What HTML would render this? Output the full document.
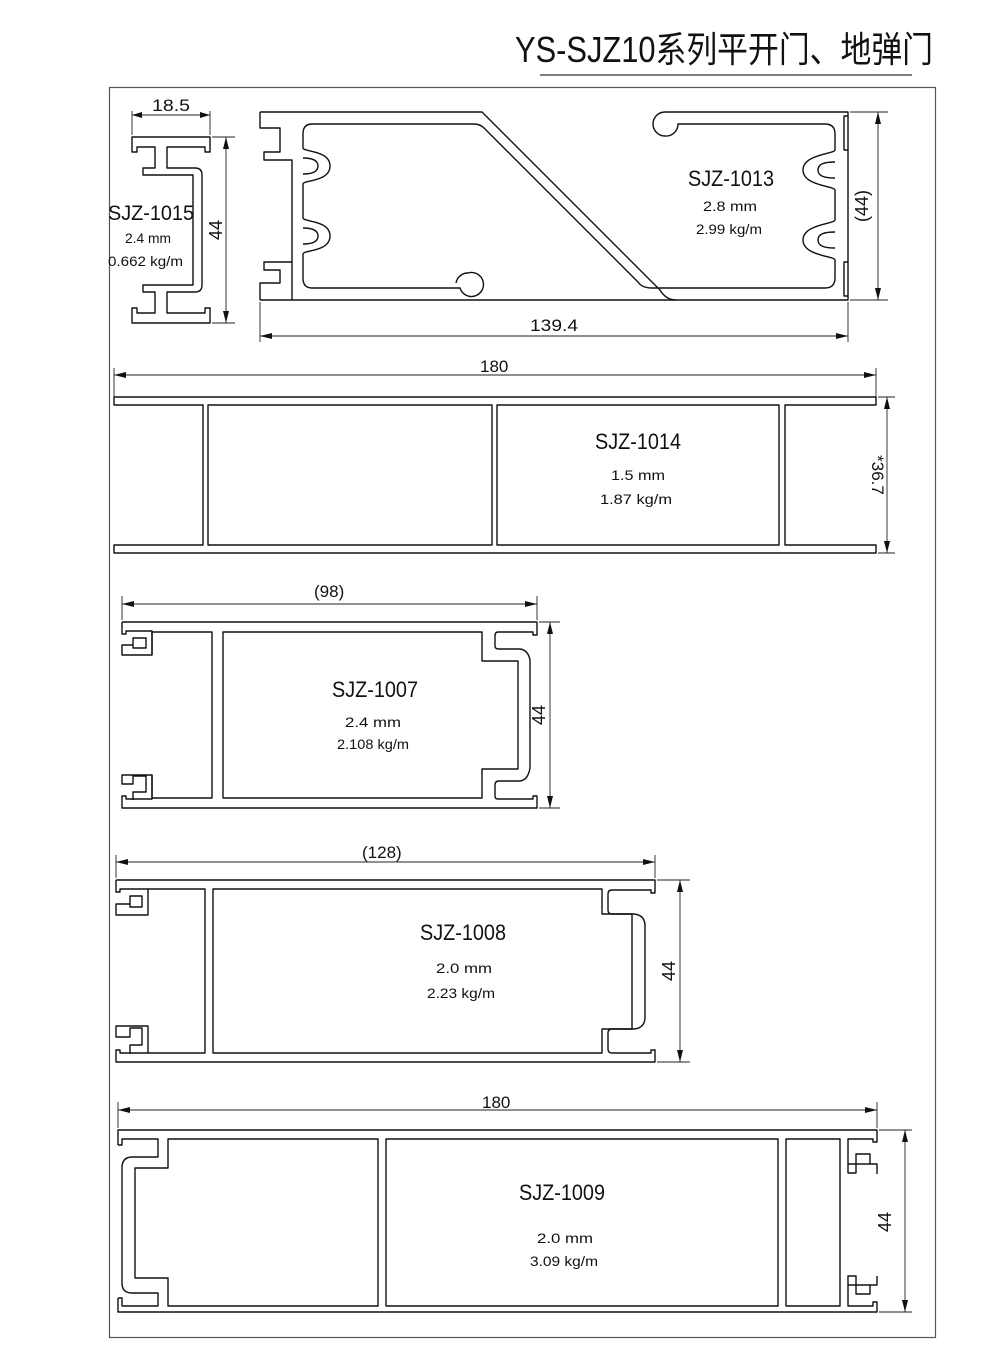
<!DOCTYPE html>
<html><head><meta charset="utf-8"><style>
html,body{margin:0;padding:0;background:#fff}
svg{display:block}
text{font-family:"Liberation Sans","Noto Sans CJK SC",sans-serif;fill:#111}
.p{fill:none;stroke:#111;stroke-width:1.4;stroke-linejoin:round}
.d{fill:none;stroke:#222;stroke-width:0.9}
.a{fill:#111}
</style></head><body>
<svg width="1000" height="1366" viewBox="0 0 1000 1366" xmlns="http://www.w3.org/2000/svg">
<text x="515" y="62" font-size="36" textLength="418" lengthAdjust="spacingAndGlyphs">YS-SJZ10系列平开门、地弹门</text>
<line x1="540" y1="75" x2="912" y2="75" stroke="#333" stroke-width="1.2"/>
<rect x="109.5" y="87.5" width="826" height="1250" fill="none" stroke="#555" stroke-width="1.2"/>

<!-- SJZ-1015 -->
<path class="p" d="M132,137 H210 V152 H205 V147 H167 V168 H195 Q202,168 202,175 V285 Q202,292 195,292 H167 V313 H205 V308 H210 V323 H132 V308 H137 V313 H155 V292 H143 V285 H193 V175 H143 V168 H155 V147 H137 V152 H132 Z"/>
<line class="d" x1="132" y1="111" x2="132" y2="135"/><line class="d" x1="210" y1="111" x2="210" y2="135"/>
<line class="d" x1="132" y1="115" x2="210" y2="115"/>
<path class="a" d="M132,115 l10,-3 v6z M210,115 l-10,-3 v6z"/>
<text x="152" y="111" font-size="17" textLength="38" lengthAdjust="spacingAndGlyphs">18.5</text>
<line class="d" x1="212" y1="137" x2="235" y2="137"/><line class="d" x1="212" y1="323" x2="235" y2="323"/>
<line class="d" x1="226" y1="137" x2="226" y2="323"/>
<path class="a" d="M226,137 l-3,12 h6z M226,323 l-3,-12 h6z"/>
<text transform="translate(222,230) rotate(-90)" font-size="18" text-anchor="middle">44</text>
<text x="108" y="220" font-size="21" textLength="86" lengthAdjust="spacingAndGlyphs">SJZ-1015</text>
<text x="125" y="243" font-size="14" textLength="46" lengthAdjust="spacingAndGlyphs">2.4 mm</text>
<text x="108" y="266" font-size="14" textLength="75" lengthAdjust="spacingAndGlyphs">0.662 kg/m</text>

<!-- SJZ-1013 -->
<path class="p" d="M260,112 H482 L660,290 Q666,300 676,300 H848 V112 H665 A12,12 0 0 0 665,136 A12,12 0 0 0 678,124 H825 Q835,124 835,134 V150 C835,154 803,154 803,170 C803,186 835,186 835,190 V220 C835,224 803,224 803,240 C803,256 835,256 835,260 V278 Q835,288 825,288 H652 Q642,288 638,282 L484,128 Q480,124 474,124 H312 Q303,124 303,134 V148 C303,152 330,150 330,166 C330,182 303,180 303,184 V218 C303,222 330,220 330,236 C330,252 303,250 303,254 V278 Q303,288 312,288 H460 A12,12 0 1 0 468,273 A12,12 0 0 0 456,283"/>
<path class="p" d="M260,300 H676"/>
<path class="p" d="M260,112 V128 H280 V152 H264 V160 H292 V300"/>
<path class="p" d="M260,300 V283 H280 V270 H264 V262 H292"/>
<path class="p" d="M303,158 C312,158 318,160 318,166 C318,172 312,174 303,174 M303,228 C312,228 318,230 318,236 C318,242 312,244 303,244"/>
<path class="p" d="M835,162 C824,162 818,164 818,170 C818,176 824,178 835,178 M835,232 C824,232 818,234 818,240 C818,246 824,248 835,248"/>
<path class="p" d="M848,116 H844 V150 H848 M848,296 H844 V262 H848"/>
<line class="d" x1="850" y1="112" x2="888" y2="112"/><line class="d" x1="850" y1="300" x2="888" y2="300"/>
<line class="d" x1="878" y1="112" x2="878" y2="300"/>
<path class="a" d="M878,112 l-3,12 h6z M878,300 l-3,-12 h6z"/>
<text transform="translate(868,206) rotate(-90)" font-size="18" text-anchor="middle">(44)</text>
<line class="d" x1="260" y1="302" x2="260" y2="342"/><line class="d" x1="848" y1="302" x2="848" y2="342"/>
<line class="d" x1="260" y1="336" x2="848" y2="336"/>
<path class="a" d="M260,336 l12,-3 v6z M848,336 l-12,-3 v6z"/>
<text x="530" y="331" font-size="17" textLength="48" lengthAdjust="spacingAndGlyphs">139.4</text>
<text x="688" y="186" font-size="22" textLength="86" lengthAdjust="spacingAndGlyphs">SJZ-1013</text>
<text x="703" y="211" font-size="14" textLength="54" lengthAdjust="spacingAndGlyphs">2.8  mm</text>
<text x="696" y="234" font-size="14" textLength="66" lengthAdjust="spacingAndGlyphs">2.99 kg/m</text>

<!-- SJZ-1014 -->
<line class="d" x1="114" y1="368" x2="114" y2="400"/><line class="d" x1="876" y1="368" x2="876" y2="400"/>
<line class="d" x1="114" y1="375" x2="876" y2="375"/>
<path class="a" d="M114,375 l12,-3 v6z M876,375 l-12,-3 v6z"/>
<text x="480" y="372" font-size="17">180</text>
<path class="p" d="M114,397 H876 V405 H785 V545 H876 V553 H114 V545 H203 V405 H114 Z"/>
<rect class="p" x="208" y="405" width="284" height="140"/>
<rect class="p" x="497" y="405" width="282" height="140"/>
<line class="d" x1="878" y1="397" x2="895" y2="397"/><line class="d" x1="878" y1="553" x2="895" y2="553"/>
<line class="d" x1="887" y1="397" x2="887" y2="553"/>
<path class="a" d="M887,397 l-3,12 h6z M887,553 l-3,-12 h6z"/>
<text transform="translate(872,475) rotate(90)" font-size="17" text-anchor="middle">*36.7</text>
<text x="595" y="449" font-size="22" textLength="86" lengthAdjust="spacingAndGlyphs">SJZ-1014</text>
<text x="611" y="480" font-size="14" textLength="54" lengthAdjust="spacingAndGlyphs">1.5   mm</text>
<text x="600" y="504" font-size="14" textLength="72" lengthAdjust="spacingAndGlyphs">1.87  kg/m</text>

<!-- SJZ-1007 -->
<line class="d" x1="122" y1="596" x2="122" y2="620"/><line class="d" x1="537" y1="596" x2="537" y2="620"/>
<line class="d" x1="122" y1="604" x2="537" y2="604"/>
<path class="a" d="M122,604 l12,-3 v6z M537,604 l-12,-3 v6z"/>
<text x="314" y="597" font-size="17">(98)</text>
<path class="p" d="M122,622 H537 V635 H533 V632 H498 Q495,632 495,636 V646 Q495,649 499,649 H520 Q528,650 530,660 V768 Q528,780 520,781 H499 Q495,781 495,785 V796 Q495,799 498,799 H533 V796 H537 V808 H122 V796 H126 V799 H152 V775 H122 V784 H133 V776 H146 V792 H133 V800 M122,622 V634 H126 V631 H152 V655 H122 V645 H133 V638 H146 V648 H133 V640"/>
<path class="p" d="M152,632 H212 V798 H152 M152,632 V655 M152,775 V798"/>
<path class="p" d="M223,632 H482 V661 H518 V769 H482 V798 H223 Z"/>
<line class="d" x1="539" y1="622" x2="560" y2="622"/><line class="d" x1="539" y1="808" x2="560" y2="808"/>
<line class="d" x1="550" y1="622" x2="550" y2="808"/>
<path class="a" d="M550,622 l-3,12 h6z M550,808 l-3,-12 h6z"/>
<text transform="translate(545,715) rotate(-90)" font-size="18" text-anchor="middle">44</text>
<text x="332" y="697" font-size="22" textLength="86" lengthAdjust="spacingAndGlyphs">SJZ-1007</text>
<text x="345" y="727" font-size="14" textLength="56" lengthAdjust="spacingAndGlyphs">2.4   mm</text>
<text x="337" y="749" font-size="14" textLength="72" lengthAdjust="spacingAndGlyphs">2.108 kg/m</text>

<!-- SJZ-1008 -->
<line class="d" x1="116" y1="855" x2="116" y2="878"/><line class="d" x1="655" y1="855" x2="655" y2="878"/>
<line class="d" x1="116" y1="862" x2="655" y2="862"/>
<path class="a" d="M116,862 l12,-3 v6z M655,862 l-12,-3 v6z"/>
<text x="362" y="858" font-size="17">(128)</text>
<path class="p" d="M116,880 H655 V893 H651 V890 H612 Q608,890 608,894 V910 Q608,914 612,914 H634 Q645,915 645,926 V1017 Q645,1028 634,1029 H612 Q608,1029 608,1033 V1049 Q608,1053 612,1053 H651 V1050 H655 V1062 H116 V1050 H120 V1053 H148 V1026 H116 V1037 H130 V1028 H142 V1045 H130 V1054 M116,880 V892 H120 V889 H148 V915 H116 V904 H130 V896 H142 V907 H130 V900"/>
<path class="p" d="M148,889 H205 V1053 H148"/>
<path class="p" d="M213,889 H602 V914 H632 V1029 H602 V1053 H213 Z"/>
<line class="d" x1="657" y1="880" x2="690" y2="880"/><line class="d" x1="657" y1="1062" x2="690" y2="1062"/>
<line class="d" x1="680" y1="880" x2="680" y2="1062"/>
<path class="a" d="M680,880 l-3,12 h6z M680,1062 l-3,-12 h6z"/>
<text transform="translate(675,971) rotate(-90)" font-size="18" text-anchor="middle">44</text>
<text x="420" y="940" font-size="22" textLength="86" lengthAdjust="spacingAndGlyphs">SJZ-1008</text>
<text x="436" y="973" font-size="14" textLength="56" lengthAdjust="spacingAndGlyphs">2.0   mm</text>
<text x="427" y="998" font-size="14" textLength="68" lengthAdjust="spacingAndGlyphs">2.23 kg/m</text>

<!-- SJZ-1009 -->
<line class="d" x1="118" y1="1102" x2="118" y2="1128"/><line class="d" x1="877" y1="1102" x2="877" y2="1128"/>
<line class="d" x1="118" y1="1110" x2="877" y2="1110"/>
<path class="a" d="M118,1110 l12,-3 v6z M877,1110 l-12,-3 v6z"/>
<text x="482" y="1108" font-size="17">180</text>
<path class="p" d="M118,1145 V1130 H877 V1142 H873 V1139 H848 V1164 H877 V1174"/>
<path class="p" d="M877,1276 V1285 H848 V1306 H873 V1302 H877 V1312 H118 V1298"/>
<path class="p" d="M118,1145 H122 V1139 H158 V1157 H132 Q122,1157 122,1168 V1283 Q122,1293 132,1293 H158 V1306 H122 V1298 H118"/>
<path class="p" d="M168,1139 V1168 H135 V1278 H168 V1306 H378 V1139 Z"/>
<rect class="p" x="386" y="1139" width="392" height="167"/>
<rect class="p" x="786" y="1139" width="54" height="167"/>
<path class="p" d="M848,1164 V1173 H856 V1154 H870 V1164 M848,1285 V1276 H856 V1294 H870 V1285"/>
<line class="d" x1="879" y1="1130" x2="912" y2="1130"/><line class="d" x1="879" y1="1312" x2="912" y2="1312"/>
<line class="d" x1="905" y1="1130" x2="905" y2="1312"/>
<path class="a" d="M905,1130 l-3,12 h6z M905,1312 l-3,-12 h6z"/>
<text transform="translate(891,1222) rotate(-90)" font-size="18" text-anchor="middle">44</text>
<text x="519" y="1200" font-size="22" textLength="86" lengthAdjust="spacingAndGlyphs">SJZ-1009</text>
<text x="537" y="1243" font-size="14" textLength="56" lengthAdjust="spacingAndGlyphs">2.0   mm</text>
<text x="530" y="1266" font-size="14" textLength="68" lengthAdjust="spacingAndGlyphs">3.09 kg/m</text>
</svg>
</body></html>
